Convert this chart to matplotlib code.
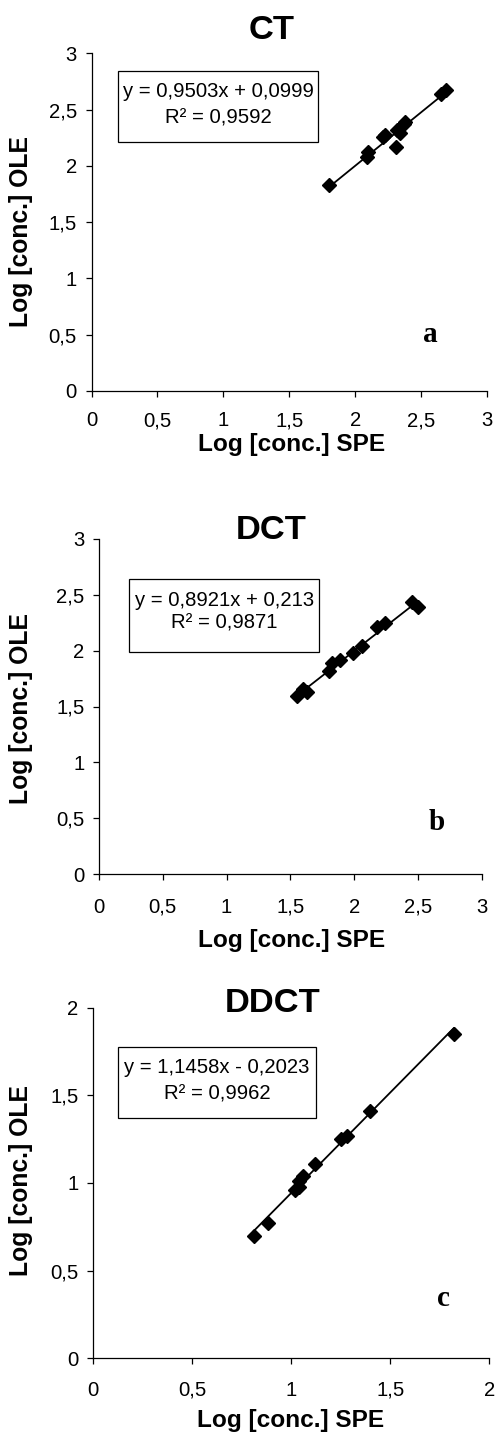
import matplotlib
matplotlib.use("Agg")
import matplotlib.pyplot as plt
from matplotlib.patches import Rectangle
import numpy as np

# ---------------- data ----------------
titles = ["CT", "DCT", "DDCT"]
panel_letters = ["a", "b", "c"]
xlabel = "Log [conc.] SPE"
ylabel = "Log [conc.] OLE"

ct_x = [1.80, 2.09, 2.10, 2.21, 2.23, 2.31, 2.32, 2.34, 2.37, 2.38, 2.65, 2.69]
ct_y = [1.83, 2.08, 2.12, 2.26, 2.27, 2.17, 2.32, 2.29, 2.37, 2.39, 2.64, 2.67]

dct_x = [1.55, 1.60, 1.63, 1.80, 1.83, 1.89, 1.99, 2.06, 2.18, 2.24, 2.45, 2.50]
dct_y = [1.59, 1.66, 1.63, 1.82, 1.89, 1.92, 1.98, 2.04, 2.21, 2.25, 2.44, 2.39]

ddct_x = [0.81, 0.88, 1.02, 1.04, 1.04, 1.06, 1.12, 1.25, 1.28, 1.40, 1.82]
ddct_y = [0.70, 0.77, 0.96, 0.98, 1.01, 1.04, 1.11, 1.25, 1.27, 1.41, 1.85]

slopes = [0.9503, 0.8921, 1.1458]
intercepts = [0.0999, 0.213, -0.2023]
eq_lines = ["y = 0,9503x + 0,0999", "y = 0,8921x + 0,213", "y = 1,1458x - 0,2023"]
r2_lines = ["R² = 0,9592", "R² = 0,9871", "R² = 0,9962"]

xlims = [3, 3, 2]
ylims = [3, 3, 2]
xticks = [[0, 0.5, 1, 1.5, 2, 2.5, 3], [0, 0.5, 1, 1.5, 2, 2.5, 3], [0, 0.5, 1, 1.5, 2]]
yticks = [[0, 0.5, 1, 1.5, 2, 2.5, 3], [0, 0.5, 1, 1.5, 2, 2.5, 3], [0, 0.5, 1, 1.5, 2]]
tick_text = {0: "0", 0.5: "0,5", 1: "1", 1.5: "1,5", 2: "2", 2.5: "2,5", 3: "3"}

xs = [ct_x, dct_x, ddct_x]
ys = [ct_y, dct_y, ddct_y]

# ---------------- layout (pixels) ----------------
W, H = 496, 1434
axes_px = [(91.5, 53.3, 487.0, 391.0),
           (99.0, 539.0, 481.7, 874.0),
           (93.3, 1007.7, 489.3, 1358.3)]
title_px = [(272, 39), (271, 539), (272.5, 1011.7)]
xlabel_px = [(292, 450.7), (291.7, 946.7), (291, 1427.5)]
ylabel_px = [(21.5, 231.5), (21.5, 708), (21.5, 1181)]
box_px = [(118.3, 70.7, 318.3, 142.0),
          (129.3, 579.3, 319.3, 652.3),
          (118.3, 1046.7, 315.7, 1118.3)]
eq_px = [(218.3, 91.5, 117.5), (224.3, 600, 623.5), (217, 1067.5, 1094)]
letter_px = [(430, 334.5), (436.5, 822.5), (443, 1299)]
xpad = [10.5, 13.0, 12.0]

def fx(x):
    return x / W

def fy(y):
    return 1 - y / H

plt.rcParams['font.family'] = ['Liberation Sans', 'DejaVu Sans']

fig = plt.figure(figsize=(W / 100, H / 100), dpi=100)

for i in range(3):
    l, t, r, b = axes_px[i]
    ax = fig.add_axes([fx(l), fy(b), (r - l) / W, (b - t) / H])
    ax.plot(xs[i], ys[i], linestyle='none', marker='D', markersize=7.5,
            color='black', zorder=3, clip_on=False)
    lx = np.array([min(xs[i]), max(xs[i])])
    ax.plot(lx, slopes[i] * lx + intercepts[i], color='black', lw=1.3, zorder=2)
    ax.set_xlim(0, xlims[i])
    ax.set_ylim(0, ylims[i])
    ax.set_xticks(xticks[i])
    ax.set_yticks(yticks[i])
    ax.set_xticklabels([tick_text[v] for v in xticks[i]])
    ax.set_yticklabels([tick_text[v] for v in yticks[i]])
    for s in ['top', 'right']:
        ax.spines[s].set_visible(False)
    for s in ['left', 'bottom']:
        ax.spines[s].set_linewidth(0.9)
        ax.spines[s].set_color('black')
    ax.tick_params(axis='x', direction='out', length=4, width=0.9,
                   labelsize=14.6, pad=xpad[i], colors='black')
    ax.tick_params(axis='y', direction='out', length=4, width=0.9,
                   labelsize=14.6, pad=6.5, colors='black')
    ax.patch.set_alpha(0)

    # title
    fig.text(fx(title_px[i][0]), fy(title_px[i][1]), titles[i], ha='center',
             va='baseline', fontsize=24.8, fontweight='bold')
    # axis labels
    fig.text(fx(xlabel_px[i][0]), fy(xlabel_px[i][1]), xlabel, ha='center',
             va='baseline', fontsize=17.6, fontweight='bold')
    fig.text(fx(ylabel_px[i][0]), fy(ylabel_px[i][1]), ylabel, ha='center',
             va='center', rotation=90, fontsize=17.8, fontweight='bold')
    # equation box
    bl, bt, br, bb = box_px[i]
    fig.patches.append(Rectangle((fx(bl), fy(bb)), (br - bl) / W, (bb - bt) / H,
                                 transform=fig.transFigure, fill=False,
                                 edgecolor='black', linewidth=0.9))
    cx, y1, y2 = eq_px[i]
    fig.text(fx(cx), fy(y1), eq_lines[i], ha='center', va='center', fontsize=14.6)
    fig.text(fx(cx), fy(y2), r2_lines[i], ha='center', va='center', fontsize=14.6)
    # panel letter
    fig.text(fx(letter_px[i][0]), fy(letter_px[i][1]), panel_letters[i],
             ha='center', va='center', fontsize=21, fontweight='bold',
             family='Liberation Serif')

fig.savefig('out.png', dpi=100)
